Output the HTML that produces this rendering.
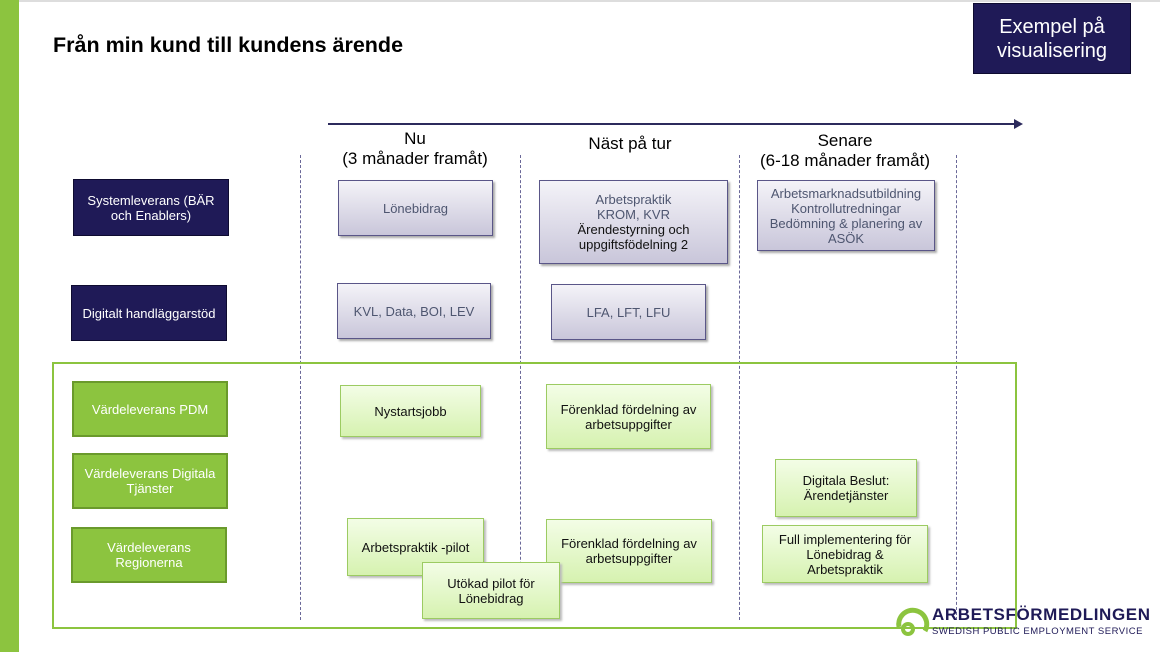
<!DOCTYPE html>
<html><head><meta charset="utf-8"><style>
*{margin:0;padding:0;box-sizing:border-box}
body{width:1160px;height:652px;position:relative;background:#fff;font-family:"Liberation Sans",sans-serif;overflow:hidden}
.a{position:absolute}
.b{position:absolute;display:flex;align-items:center;justify-content:center;text-align:center;font-size:13px;line-height:15px}
.n{background:#1f1a57;color:#fff;border:1px solid #0e0b30}
.g{background:#8cc43f;color:#fff;border:2px solid #6a9a2c}
.p{background:linear-gradient(#f4f3f8,#c9c6da);color:#4e5670;border:1.5px solid #5a5688;box-shadow:2px 2px 2px #aaa}
.l{background:linear-gradient(#f3fde6,#d6f2b0);color:#111;border:1px solid #9ccb62;box-shadow:2px 2px 2px #bbb}
.d{position:absolute;top:155px;height:465px;border-left:1.5px dashed #6a6898}
.h{position:absolute;text-align:center;font-size:17px;line-height:20px;color:#000}
</style></head><body>
<div class="a" style="left:0;top:0;width:1160px;height:2px;background:#ddd"></div>
<div class="a" style="left:0;top:0;width:19px;height:652px;background:#8cc43f"></div>
<div class="a" style="left:53px;top:33px;font-size:21.5px;font-weight:bold">Från min kund till kundens ärende</div>
<div class="b n" style="left:973px;top:3px;width:158px;height:71px;font-size:20px;line-height:24px"><div>Exempel på<br>visualisering</div></div>
<div class="a" style="left:328px;top:123px;width:688px;height:1.5px;background:#2c2a5c"></div>
<div class="a" style="left:1014px;top:119px;width:0;height:0;border-top:5px solid transparent;border-bottom:5px solid transparent;border-left:9px solid #2c2a5c"></div>
<div class="h" style="left:300px;top:129px;width:230px">Nu<br>(3 månader framåt)</div>
<div class="h" style="left:520px;top:134px;width:220px">Näst på tur</div>
<div class="h" style="left:735px;top:131px;width:220px">Senare<br>(6-18 månader framåt)</div>
<div class="d" style="left:300px"></div><div class="d" style="left:520px"></div><div class="d" style="left:739px"></div><div class="d" style="left:956px"></div>
<div class="a" style="left:52px;top:362px;width:965px;height:267px;border:2px solid #8cc43f"></div>
<div class="b n" style="left:73px;top:179px;width:156px;height:57px"><div>Systemleverans (BÄR<br>och Enablers)</div></div>
<div class="b n" style="left:71px;top:285px;width:156px;height:56px">Digitalt handläggarstöd</div>
<div class="b g" style="left:72px;top:381px;width:156px;height:56px">Värdeleverans PDM</div>
<div class="b g" style="left:72px;top:453px;width:156px;height:56px"><div>Värdeleverans Digitala<br>Tjänster</div></div>
<div class="b g" style="left:71px;top:527px;width:156px;height:56px"><div>Värdeleverans<br>Regionerna</div></div>
<div class="b p" style="left:338px;top:180px;width:155px;height:56px">Lönebidrag</div>
<div class="b p" style="left:539px;top:180px;width:189px;height:84px"><div>Arbetspraktik<br>KROM, KVR<br><span style="color:#111">Ärendestyrning och<br>uppgiftsfödelning 2</span></div></div>
<div class="b p" style="left:757px;top:180px;width:178px;height:71px;align-items:flex-start;padding-top:5px"><div>Arbetsmarknadsutbildning<br>Kontrollutredningar<br>Bedömning &amp; planering av<br>ASÖK</div></div>
<div class="b p" style="left:337px;top:283px;width:154px;height:56px">KVL, Data, BOI, LEV</div>
<div class="b p" style="left:551px;top:284px;width:155px;height:56px">LFA, LFT, LFU</div>
<div class="b l" style="left:340px;top:385px;width:141px;height:52px">Nystartsjobb</div>
<div class="b l" style="left:546px;top:384px;width:165px;height:65px"><div>Förenklad fördelning av<br>arbetsuppgifter</div></div>
<div class="b l" style="left:775px;top:459px;width:142px;height:58px"><div>Digitala Beslut:<br>Ärendetjänster</div></div>
<div class="b l" style="left:762px;top:525px;width:166px;height:58px"><div>Full implementering för<br>Lönebidrag &amp;<br>Arbetspraktik</div></div>
<div class="b l" style="left:347px;top:518px;width:137px;height:58px">Arbetspraktik -pilot</div>
<div class="b l" style="left:546px;top:519px;width:166px;height:64px"><div>Förenklad fördelning av<br>arbetsuppgifter</div></div>
<div class="b l" style="left:422px;top:562px;width:138px;height:57px"><div>Utökad pilot för<br>Lönebidrag</div></div>
<svg class="a" style="left:895px;top:603px" width="40" height="34" viewBox="0 0 40 34"><path d="M4 24 A14 14 0 1 1 30 28" fill="none" stroke="#8cc43f" stroke-width="5"/><circle cx="13" cy="26" r="5" fill="none" stroke="#8cc43f" stroke-width="4"/></svg>
<div class="a" style="left:932px;top:605px;font-size:17px;letter-spacing:0.6px;color:#1f1a57;font-weight:bold">ARBETSFÖRMEDLINGEN</div>
<div class="a" style="left:932px;top:626px;font-size:9.5px;letter-spacing:0.5px;color:#1f1a57">SWEDISH PUBLIC EMPLOYMENT SERVICE</div>
</body></html>
